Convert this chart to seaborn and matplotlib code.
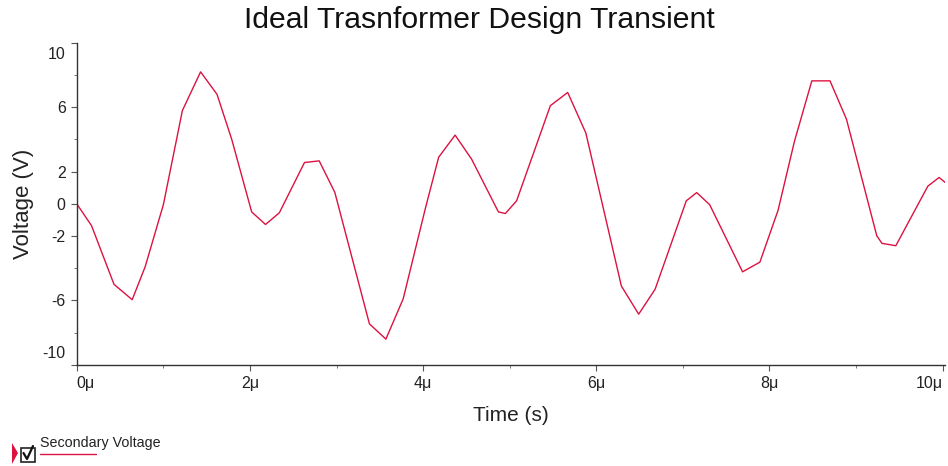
import matplotlib
matplotlib.use("Agg")
import matplotlib.pyplot as plt
import matplotlib.transforms as mtransforms
from matplotlib.lines import Line2D
from matplotlib.patches import Rectangle, Polygon
import seaborn as sns
import pandas as pd

# Secondary winding voltage of the ideal transformer, sampled in microseconds
time_us = [0, 0.17, 0.43, 0.64, 0.79, 1.0, 1.22, 1.43, 1.62, 1.79, 2.02, 2.18,
           2.34, 2.63, 2.80, 2.98, 3.38, 3.57, 3.77, 4.03, 4.18, 4.37, 4.56,
           4.87, 4.95, 5.08, 5.47, 5.67, 5.88, 6.29, 6.49, 6.68, 7.04, 7.16,
           7.31, 7.69, 7.89, 8.10, 8.29, 8.49, 8.70, 8.89, 9.24, 9.30, 9.46,
           9.83, 9.96, 10.03]
secondary_v = [0, -1.35, -5.0, -5.95, -3.9, -0.05, 5.8, 8.2, 6.8, 4.0, -0.5,
               -1.28, -0.55, 2.57, 2.67, 0.72, -7.45, -8.4, -5.9, -0.2, 2.9,
               4.27, 2.78, -0.5, -0.6, 0.19, 6.1, 6.92, 4.4, -5.1, -6.85, -5.3,
               0.19, 0.7, -0.05, -4.22, -3.62, -0.4, 3.9, 7.64, 7.64, 5.26,
               -1.98, -2.45, -2.6, 1.1, 1.64, 1.33]

x_ticks = [0, 2, 4, 6, 8, 10]
x_tick_labels = ["0μ", "2μ", "4μ", "6μ", "8μ", "10μ"]
y_ticks = [10, 6, 2, 0, -2, -6, -10]
y_minor = [8, 4, -4, -8]
series_name = "Secondary Voltage"
line_color = "#dc1240"

sns.set_style("ticks")
plt.rcParams["font.family"] = ["Liberation Sans", "DejaVu Sans"]

df = pd.DataFrame({"Time": time_us, "Voltage": secondary_v})

fig = plt.figure(figsize=(9.48, 4.66), dpi=100)
ax = fig.add_axes([0.081, 0.217, 0.916, 0.691])

sns.lineplot(data=df, x="Time", y="Voltage", ax=ax, color=line_color,
             linewidth=1.0, sort=False)

ax.set_xlim(0, 10.03)
ax.set_ylim(-10, 10)
ax.set_xticks(x_ticks)
ax.set_xticklabels(x_tick_labels)
ax.set_xticks([1, 3, 5, 7, 9], minor=True)
ax.set_yticks(y_ticks)
ax.set_yticklabels([str(v) for v in y_ticks])
ax.set_yticks(y_minor, minor=True)

for side in ("top", "right"):
    ax.spines[side].set_visible(False)
for side in ("left", "bottom"):
    ax.spines[side].set_color("#333333")
    ax.spines[side].set_linewidth(1.0)

ax.tick_params(axis="both", which="major", length=4, width=0.8,
               colors="#555555", labelcolor="#222222", labelsize=11.5, pad=4)
ax.tick_params(axis="both", which="minor", length=2.5, width=0.7,
               colors="#777777")

# keep the end labels inside the axis span
for tick in ax.yaxis.get_major_ticks():
    txt = tick.label1.get_text()
    if txt == "10":
        tick.label1.set_va("top")
        tick.label1.set_transform(tick.label1.get_transform() +
                                  mtransforms.ScaledTranslation(0, -3 / 72, fig.dpi_scale_trans))
    elif txt == "-10":
        tick.label1.set_va("bottom")
        tick.label1.set_transform(tick.label1.get_transform() +
                                  mtransforms.ScaledTranslation(0, 3 / 72, fig.dpi_scale_trans))
for tick in ax.xaxis.get_major_ticks():
    txt = tick.label1.get_text()
    if txt == "0μ":
        tick.label1.set_ha("left")
    elif txt == "10μ":
        tick.label1.set_ha("right")

ax.set_xlabel("Time (s)", fontsize=15, color="#222222", labelpad=11)
ax.set_ylabel("Voltage (V)", fontsize=16, color="#222222", labelpad=6)
fig.text(0.506, 0.957, "Ideal Trasnformer Design Transient", ha="center",
         va="center", fontsize=21.7, color="#111111")

# legend entry: marker flag, checkbox, name, and a line sample underneath
fig.patches.append(Polygon([[12 / 948, 1 - 443 / 466], [12 / 948, 1 - 464 / 466],
                            [18 / 948, 1 - 453 / 466]], closed=True,
                           transform=fig.transFigure, facecolor=line_color,
                           edgecolor="none"))
fig.patches.append(Rectangle((21 / 948, 1 - 462 / 466), 14 / 948, 14 / 466,
                             transform=fig.transFigure, facecolor="white",
                             edgecolor="#222222", linewidth=1.2))
fig.lines.append(Line2D([23.5 / 948, 27 / 948, 33 / 948],
                        [1 - 453 / 466, 1 - 459 / 466, 1 - 446 / 466],
                        transform=fig.transFigure, color="#111111", linewidth=1.6))
fig.text(40 / 948, 1 - 443 / 466, series_name, ha="left", va="center",
         fontsize=10.3, color="#222222")
fig.lines.append(Line2D([40 / 948, 96 / 948], [1 - 453.5 / 466, 1 - 453.5 / 466],
                        transform=fig.transFigure, color=line_color, linewidth=1.0))

fig.savefig("out.png", dpi=100)
